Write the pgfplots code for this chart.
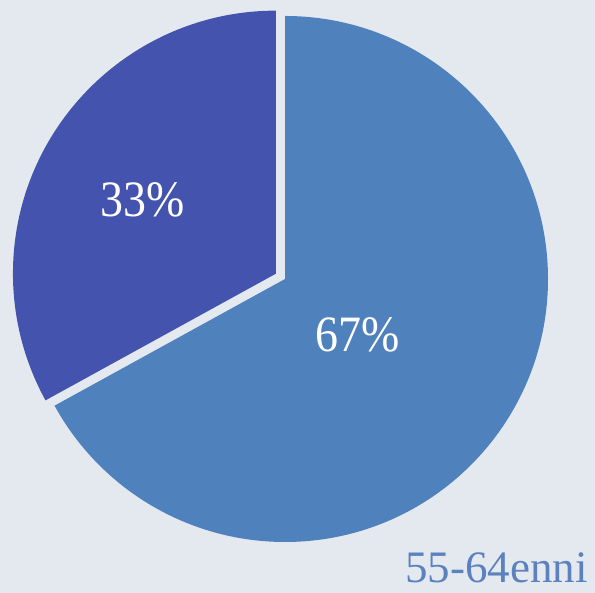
\documentclass[border=0pt]{standalone}
\usepackage{pgfplots}
\pgfplotsset{compat=1.18}
\usepackage{pgfplotstable}
\usetikzlibrary{calc}
\usepackage{fontspec}
\setmainfont{Liberation Serif}
\definecolor{bgc}{HTML}{E4E9F0}
\definecolor{bigc}{HTML}{4F81BD}
\definecolor{smallc}{HTML}{4453AE}
\definecolor{labc}{HTML}{5B82BE}
\pgfplotstableread{
label value
A 33
B 67
}\piedata
\begin{document}
\begin{tikzpicture}[x=1pt,y=1pt]
\fill[bgc] (0,0) rectangle (595,593);
\pgfplotstablegetelem{0}{value}\of\piedata \let\va\pgfplotsretval
\pgfplotstablegetelem{1}{value}\of\piedata \let\vb\pgfplotsretval
\pgfmathsetmacro{\angA}{360*\va/(\va+\vb)}
\pgfmathsetmacro{\endA}{90+\angA}
\pgfmathsetmacro{\endB}{\endA-360}
\pgfmathsetmacro{\midA}{90+\angA/2}
\begin{axis}[at={(0,0)},anchor=origin,scale only axis,width=595pt,height=593pt,
  xmin=0,xmax=595,ymin=0,ymax=593,hide axis,clip=false]
\fill[bigc] (axis cs:285,314) -- ++(90:263pt) arc[start angle=90,end angle=\endB,radius=263pt] -- cycle;
\fill[smallc] ($(axis cs:285,314)+(\midA:10.5pt)$) -- ++(90:263pt) arc[start angle=90,end angle=\endA,radius=263pt] -- cycle;
\node[text=white,font=\fontsize{51}{51}\selectfont] at (axis cs:143,393) {\scalebox{0.9}[1]{\va\%}};
\node[text=white,font=\fontsize{51}{51}\selectfont] at (axis cs:358,258) {\scalebox{0.9}[1]{\vb\%}};
\node[text=labc,anchor=base east,font=\fontsize{45}{45}\selectfont,inner sep=0pt] at (axis cs:588,10) {55-64enni};
\end{axis}
\end{tikzpicture}
\end{document}
